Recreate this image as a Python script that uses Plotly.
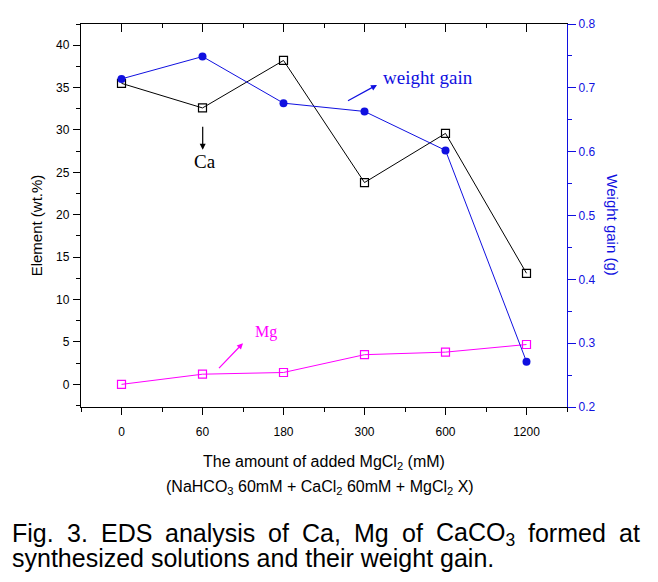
import plotly.graph_objects as go

categories = ["0", "60", "180", "300", "600", "1200"]
ca_values = [35.5, 32.6, 38.2, 23.8, 29.6, 13.1]
mg_values = [0.0, 1.2, 1.4, 3.5, 3.8, 4.7]
weight_gain = [0.714, 0.749, 0.676, 0.663, 0.602, 0.271]

caption_line1 = ["Fig.", "3.", "EDS", "analysis", "of", "Ca,", "Mg", "of", "CaCO<sub>3</sub>", "formed", "at"]
caption_line2 = "synthesized solutions and their weight gain."

xpos = list(range(len(categories)))

# plot-area edges in page pixels; the page body adds an 8px margin
OFF = 8
L, R, T, B = 81, 567, 17, 407
W, H = 658 - OFF, 582 - OFF
PW, PH = R - L, B - T


def px(x):
    return (x - L) / PW


def py(y):
    return (B - y) / PH


SANS = "Liberation Sans, Arial, sans-serif"
SERIF = "Liberation Serif, Times New Roman, serif"
BLUE = "#1010e0"
MAG = "#ff00ff"

fig = go.Figure()
fig.add_trace(go.Scatter(
    x=xpos, y=ca_values, mode="lines+markers", name="Ca",
    line=dict(color="black", width=1),
    marker=dict(symbol="square-open", size=8, color="black", line=dict(width=1.2)),
))
fig.add_trace(go.Scatter(
    x=xpos, y=mg_values, mode="lines+markers", name="Mg",
    line=dict(color=MAG, width=1),
    marker=dict(symbol="square-open", size=8, color=MAG, line=dict(width=1.2)),
))
fig.add_trace(go.Scatter(
    x=xpos, y=weight_gain, mode="lines+markers", name="weight gain",
    yaxis="y2",
    line=dict(color=BLUE, width=1),
    marker=dict(symbol="circle", size=8, color=BLUE),
))
# invisible trace to anchor the top mirror axis
fig.add_trace(go.Scatter(x=[xpos[0]], y=[ca_values[0]], xaxis="x2", mode="markers",
                         marker=dict(opacity=0), showlegend=False, hoverinfo="skip"))

tickfont = dict(family=SANS, size=12, color="black")

fig.update_layout(
    width=W, height=H,
    margin=dict(l=L - OFF, r=W - (R - OFF), t=T - OFF, b=H - (B - OFF), pad=0),
    paper_bgcolor="white", plot_bgcolor="white",
    showlegend=False,
    xaxis=dict(
        range=[-0.5, 5.5], tickmode="array", tickvals=xpos, ticktext=categories,
        showline=True, linecolor="black", linewidth=1.3,
        ticks="outside", ticklen=7, tickwidth=1.2, tickcolor="black",
        minor=dict(ticks="outside", ticklen=4, tickwidth=1.2, tickcolor="black", dtick=0.5, tick0=0.5),
        showgrid=False, zeroline=False, tickfont=tickfont, ticklabelstandoff=6,
    ),
    xaxis2=dict(
        overlaying="x", side="top", anchor="y",
        range=[-0.5, 5.5], tickmode="array", tickvals=xpos, showticklabels=False,
        showline=True, linecolor="black", linewidth=1.3,
        ticks="inside", ticklen=8, tickwidth=1.2, tickcolor="black",
        minor=dict(ticks="inside", ticklen=4, tickwidth=1.2, tickcolor="black", dtick=0.5, tick0=0.5),
        showgrid=False, zeroline=False,
    ),
    yaxis=dict(
        range=[-2.67, 42.5], dtick=5, tick0=0,
        showline=True, linecolor="black", linewidth=1.3,
        ticks="outside", ticklen=7, tickwidth=1.2, tickcolor="black",
        minor=dict(ticks="outside", ticklen=4, tickwidth=1.2, tickcolor="black", dtick=2.5, tick0=0),
        showgrid=False, zeroline=False, tickfont=tickfont, ticklabelstandoff=1,
    ),
    yaxis2=dict(
        overlaying="y", side="right", anchor="x",
        range=[0.2, 0.8], dtick=0.1, tick0=0.2, tickformat=".1f",
        showline=True, linecolor=BLUE, linewidth=1.3,
        ticks="outside", ticklen=8, tickwidth=1.2, tickcolor=BLUE,
        minor=dict(ticks="outside", ticklen=4, tickwidth=1.2, tickcolor=BLUE, dtick=0.05, tick0=0.2),
        showgrid=False, zeroline=False, tickfont=dict(family=SANS, size=12, color=BLUE),
    ),
)

ann = []


def text_ann(text, x, y, size, color="black", family=SANS, xanchor="center", angle=0):
    ann.append(dict(text=text, x=px(x), y=py(y), xref="paper", yref="paper",
                    xanchor=xanchor, yanchor="middle", showarrow=False, textangle=angle,
                    font=dict(family=family, size=size, color=color)))


def arrow_ann(hx, hy, tx, ty, color):
    ann.append(dict(text=" ", x=px(hx), y=py(hy), xref="paper", yref="paper",
                    showarrow=True, ax=tx - hx, ay=ty - hy, arrowhead=2, arrowsize=1,
                    arrowwidth=1.2, arrowcolor=color, standoff=0, startstandoff=0,
                    font=dict(size=2)))


# Arial / Liberation Sans advance widths (per 1000 em) for justifying the caption
AW = {" ": 278, "F": 611, "i": 222, "g": 556, ".": 278, "3": 556, "E": 667, "D": 722,
      "S": 667, "a": 556, "n": 556, "l": 222, "y": 500, "s": 500, "o": 556, "f": 278,
      "C": 722, ",": 278, "M": 833, "O": 778, "r": 333, "m": 833, "e": 556, "d": 556,
      "t": 278}


def word_width(word, size):
    w = 0.0
    sub = False
    i = 0
    while i < len(word):
        if word.startswith("<sub>", i):
            sub = True
            i += 5
            continue
        if word.startswith("</sub>", i):
            sub = False
            i += 6
            continue
        w += AW.get(word[i], 556) * (0.7 if sub else 1.0)
        i += 1
    return w * size / 1000.0


# axis titles
text_ann("Element (wt.%)", 36, 222, 15, angle=-90)
text_ann("Weight gain (g)", 613, 221, 15, color=BLUE, angle=90)
text_ann("The amount of added MgCl<sub>2</sub> (mM)", 324, 464, 16)
text_ann("(NaHCO<sub>3</sub> 60mM + CaCl<sub>2</sub> 60mM + MgCl<sub>2</sub> X)", 320, 489, 16)

# caption: line 1 justified word by word between x=12 and x=640
CAP = 25
x_left, x_right = 10, 638
widths = [word_width(w, CAP) for w in caption_line1]
gap = (x_right - x_left - sum(widths)) / (len(caption_line1) - 1)
xc = x_left
for w, wd in zip(caption_line1, widths):
    text_ann(w, xc, 536.5 if "<sub>" in w else 535, CAP, xanchor="left")
    xc += wd + gap
text_ann(caption_line2, 10, 561, CAP, xanchor="left")

# in-plot labels and arrows
text_ann("Ca", 205, 157, 19, family=SERIF)
arrow_ann(202.7, 145, 202.7, 119, "black")
text_ann("weight gain", 427.5, 71, 19, color=BLUE, family=SERIF)
arrow_ann(377, 79, 346, 96, BLUE)
text_ann("Mg", 266, 331, 16, color=MAG, family=SERIF)
arrow_ann(243, 342, 217, 369, MAG)

fig.update_layout(annotations=ann)

fig.write_html("out.html")
